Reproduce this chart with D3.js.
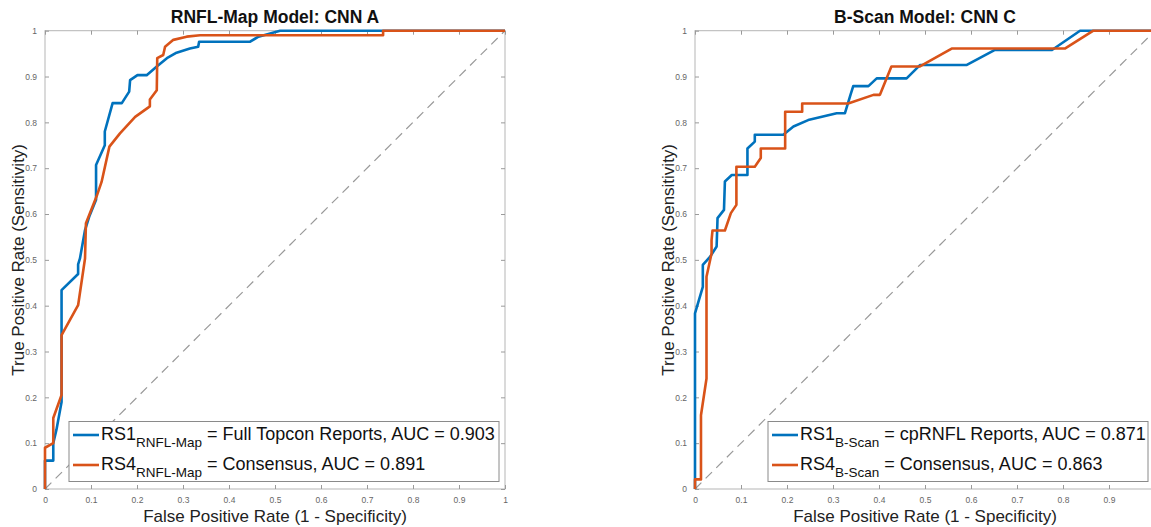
<!DOCTYPE html>
<meta charset="utf-8">
<script src="https://d3js.org/d3.v7.min.js"></script>
<style>
  body { margin: 0; background: #fff; }
  svg { font-family: "Liberation Sans", Arial, sans-serif; }
  .tick text { fill: #666; font-size: 8.5px; }
</style>
<body></body>
<script>
  // tick labels shared by both panels
  var tickValues = [0, 0.1, 0.2, 0.3, 0.4, 0.5, 0.6, 0.7, 0.8, 0.9, 1];

  // RNFL-Map model (CNN A) curves
  var rnflRS1 = [
    [0, 0], [0, 0.062], [0.018, 0.062], [0.018, 0.1], [0.025, 0.13], [0.036, 0.19], [0.036, 0.434],
    [0.072, 0.469], [0.072, 0.49], [0.076, 0.503], [0.087, 0.565], [0.096, 0.594], [0.111, 0.631],
    [0.111, 0.707], [0.13, 0.75], [0.13, 0.78], [0.147, 0.842], [0.167, 0.842], [0.183, 0.867],
    [0.185, 0.892], [0.201, 0.903], [0.221, 0.903], [0.243, 0.922], [0.265, 0.94], [0.286, 0.952],
    [0.315, 0.961], [0.333, 0.965], [0.335, 0.976], [0.446, 0.976], [0.464, 0.987], [0.511, 1],
    [1, 1]
  ];
  var rnflRS4 = [
    [0, 0], [0, 0.09], [0.018, 0.1], [0.018, 0.155], [0.036, 0.205], [0.036, 0.336], [0.072, 0.401],
    [0.087, 0.503], [0.089, 0.58], [0.112, 0.638], [0.123, 0.67], [0.14, 0.747], [0.163, 0.776],
    [0.196, 0.812], [0.228, 0.835], [0.228, 0.85], [0.243, 0.87], [0.244, 0.94], [0.257, 0.947],
    [0.261, 0.965], [0.279, 0.98], [0.308, 0.987], [0.337, 0.99], [0.735, 0.99], [0.735, 1], [1, 1]
  ];

  // B-Scan model (CNN C) curves
  var bscanRS1 = [
    [0, 0], [0, 0.383], [0.017, 0.441], [0.017, 0.489], [0.033, 0.507], [0.047, 0.529], [0.049, 0.591],
    [0.063, 0.609], [0.065, 0.671], [0.08, 0.685], [0.114, 0.685], [0.114, 0.743], [0.13, 0.758],
    [0.13, 0.773], [0.192, 0.773], [0.214, 0.791], [0.246, 0.805], [0.308, 0.82], [0.326, 0.82],
    [0.338, 0.86], [0.344, 0.879], [0.377, 0.879], [0.395, 0.896], [0.46, 0.896], [0.489, 0.925],
    [0.59, 0.925], [0.652, 0.958], [0.776, 0.958], [0.837, 1], [1, 1]
  ];
  var bscanRS4 = [
    [0, 0], [0, 0.021], [0.013, 0.021], [0.013, 0.161], [0.025, 0.241], [0.025, 0.463], [0.036, 0.514],
    [0.036, 0.543], [0.038, 0.564], [0.065, 0.564], [0.078, 0.602], [0.09, 0.62], [0.09, 0.703],
    [0.13, 0.703], [0.143, 0.722], [0.143, 0.743], [0.196, 0.743], [0.196, 0.823], [0.233, 0.823],
    [0.233, 0.841], [0.333, 0.841], [0.388, 0.86], [0.402, 0.86], [0.427, 0.922], [0.489, 0.922],
    [0.558, 0.961], [0.804, 0.961], [0.866, 1], [1, 1]
  ];

  var blue = "#0072BD", orange = "#D95319";

  var svg = d3.select("body").append("svg")
      .attr("width", 1151)
      .attr("height", 527);

  function drawPanel(opt) {
    var x = d3.scaleLinear().domain([0, 1]).range([opt.left, opt.left + 460]);
    var y = d3.scaleLinear().domain([0, 1]).range([489, 30.7]);
    var g = svg.append("g");
    var fmt = function(d) {
      if (d === 1 && !opt.lastX) return "";
      return d === 0 || d === 1 ? d3.format("d")(d) : d3.format(".1f")(d);
    };
    var fmtY = function(d) { return d === 0 || d === 1 ? d3.format("d")(d) : d3.format(".1f")(d); };

    // axes box with inward ticks on all sides
    g.append("rect")
      .attr("x", x(0)).attr("y", y(1))
      .attr("width", x(1) - x(0)).attr("height", y(0) - y(1))
      .attr("fill", "none").attr("stroke", "#b5b5b5");

    var ax = function(axis, tf, labels) {
      var a = g.append("g").attr("transform", tf)
        .call(axis.tickValues(tickValues).tickSizeInner(-4).tickSizeOuter(0)
          .tickFormat(labels || ""));
      a.select(".domain").remove();
      a.selectAll(".tick line").attr("stroke", "#9a9a9a");
      return a;
    };
    ax(d3.axisBottom(x), "translate(0," + y(0) + ")", fmt)
      .selectAll("text").attr("dy", "1.3em");
    ax(d3.axisTop(x), "translate(0," + y(1) + ")", null);
    ax(d3.axisLeft(y), "translate(" + x(0) + ",0)", fmtY)
      .selectAll("text").attr("x", -8);
    ax(d3.axisRight(y), "translate(" + x(1) + ",0)", null);

    // chance diagonal
    g.append("line")
      .attr("x1", x(0)).attr("y1", y(0)).attr("x2", x(1)).attr("y2", y(1))
      .attr("stroke", "#999").attr("stroke-width", 1.2).attr("stroke-dasharray", "9,6");

    var line = d3.line().x(function(d) { return x(d[0]); }).y(function(d) { return y(d[1]); });
    opt.series.forEach(function(s) {
      g.append("path").datum(s.values)
        .attr("d", line).attr("fill", "none")
        .attr("stroke", s.color).attr("stroke-width", 2.6)
        .attr("stroke-linejoin", "round");
    });

    // titles and axis labels
    g.append("text")
      .attr("x", x(0.5)).attr("y", 23)
      .attr("text-anchor", "middle").attr("font-weight", "bold")
      .attr("font-size", 17.5).attr("fill", "#111")
      .text(opt.title);
    g.append("text")
      .attr("x", x(0.5)).attr("y", 522)
      .attr("text-anchor", "middle").attr("font-size", 17).attr("fill", "#222")
      .text("False Positive Rate (1 - Specificity)");
    g.append("text")
      .attr("transform", "translate(" + (x(0) - 21) + "," + y(0.5) + ") rotate(-90)")
      .attr("text-anchor", "middle").attr("font-size", 17).attr("fill", "#222")
      .text("True Positive Rate (Sensitivity)");

    // legend
    var lg = g.append("g");
    lg.append("rect")
      .attr("x", opt.legend[0]).attr("y", 421.5)
      .attr("width", opt.legend[1]).attr("height", 60)
      .attr("fill", "#fff").attr("stroke", "#8a8a8a");
    opt.series.forEach(function(s, i) {
      var ly = 435 + i * 30;
      lg.append("line")
        .attr("x1", opt.legend[0] + 4).attr("x2", opt.legend[0] + 30)
        .attr("y1", ly).attr("y2", ly)
        .attr("stroke", s.color).attr("stroke-width", 2.6);
      var t = lg.append("text")
        .attr("x", opt.legend[0] + 32).attr("y", ly + 5)
        .attr("font-size", 18).attr("fill", "#111");
      t.append("tspan").text(s.name);
      t.append("tspan").attr("font-size", 13.5).attr("dy", 7).text(opt.sub);
      t.append("tspan").attr("dy", -7).text(" = " + s.desc);
    });
  }

  drawPanel({
    left: 45, title: "RNFL-Map Model: CNN A", sub: "RNFL-Map", legend: [69, 430], lastX: true,
    series: [
      {name: "RS1", desc: "Full Topcon Reports, AUC = 0.903", color: blue, values: rnflRS1},
      {name: "RS4", desc: "Consensus, AUC = 0.891", color: orange, values: rnflRS4}
    ]
  });
  drawPanel({
    left: 695, title: "B-Scan Model: CNN C", sub: "B-Scan", legend: [768, 380], lastX: false,
    series: [
      {name: "RS1", desc: "cpRNFL Reports, AUC = 0.871", color: blue, values: bscanRS1},
      {name: "RS4", desc: "Consensus, AUC = 0.863", color: orange, values: bscanRS4}
    ]
  });
</script>
